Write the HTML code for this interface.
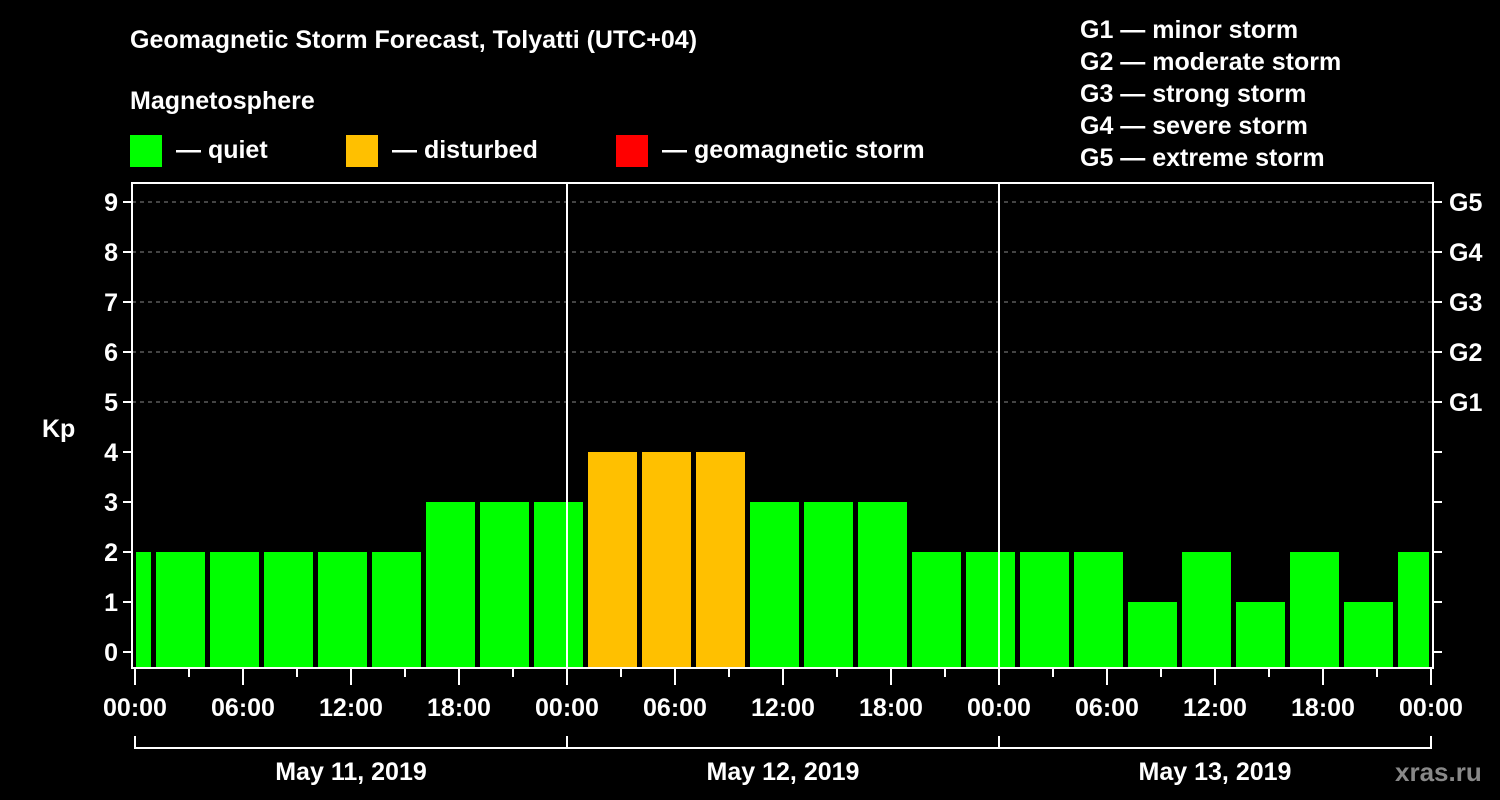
<!DOCTYPE html>
<html><head><meta charset="utf-8"><style>
body{margin:0;background:#000;}
svg{display:block;font-family:"Liberation Sans",sans-serif;font-weight:bold;}
</style></head><body>
<svg id="c" width="1500" height="800">
<rect width="1500" height="800" fill="#000"/>
<g fill="#fff" font-size="25">
<text x="130" y="48">Geomagnetic Storm Forecast, Tolyatti (UTC+04)</text>
<text x="130" y="109">Magnetosphere</text>
<rect x="130" y="135" width="32" height="32" fill="#00ff00"/>
<text x="176" y="158">— quiet</text>
<rect x="346" y="135" width="32" height="32" fill="#ffc000"/>
<text x="392" y="158">— disturbed</text>
<rect x="616" y="135" width="32" height="32" fill="#ff0000"/>
<text x="662" y="158">— geomagnetic storm</text>
<text x="1080" y="38">G1 — minor storm</text>
<text x="1080" y="70">G2 — moderate storm</text>
<text x="1080" y="102">G3 — strong storm</text>
<text x="1080" y="134">G4 — severe storm</text>
<text x="1080" y="166">G5 — extreme storm</text>
<text x="42" y="437">Kp</text>
<text x="1395" y="781" fill="#888" font-size="26">xras.ru</text>
</g>
<g id="plot"></g>
</svg>
<script>
const kpValues=[2,2,2,2,2,2,3,3,3,4,4,4,3,3,3,2,2,2,2,1,2,1,2,1,2];
const startHours=[0,1,4,7,10,13,16,19,22,25,28,31,34,37,40,43,46,49,52,55,58,61,64,67,70];
const yTicks=[0,1,2,3,4,5,6,7,8,9];
const gLabels=["G1","G2","G3","G4","G5"];
const xTickLabels=["00:00","06:00","12:00","18:00"];
const dayLabels=["May 11, 2019","May 12, 2019","May 13, 2019"];
const totalHours=72;
const NS="http://www.w3.org/2000/svg";
const g=document.getElementById('plot');
const X0=135,PXH=18,Y0=652,PXK=50,L=132,R=1433,T=183,B=668;
const x=h=>X0+h*PXH, y=k=>Y0-k*PXK;
function mk(tag,a,p){const e=document.createElementNS(NS,tag);for(const k in a)e.setAttribute(k,a[k]);(p||g).appendChild(e);return e;}
// grid
yTicks.filter(k=>k>=5).forEach(k=>{
 const l=mk('line',{x1:L,x2:R,y1:y(k),y2:y(k),stroke:'#888','stroke-dasharray':'4,4','stroke-width':1});
 
 
});
// bars
kpValues.forEach((v,i)=>{
 const s=startHours[i], e=i+1<startHours.length?startHours[i+1]:totalHours;
 const x1=Math.max(x(s)+(s===0?1:3),L+3), x2=x(e)-2;
 const c=v>=5?'#ff0000':(v>=4?'#ffc000':'#00ff00');
 const r=mk('rect',{x:x1,y:y(v),width:x2-x1,height:B-y(v),fill:c});
 
 
});
// day separators
[1,2].forEach(d=>{
 const l=mk('line',{x1:x(d*24),x2:x(d*24),y1:T,y2:B,stroke:'#fff','stroke-width':2});
 
 
});
// frame
const f=mk('rect',{x:L,y:T,width:R-L,height:B-T,fill:'none',stroke:'#fff','stroke-width':2});


// y ticks
yTicks.forEach(k=>{
 mk('line',{x1:L-9,x2:L,y1:y(k),y2:y(k),stroke:'#fff','stroke-width':2});
 mk('line',{x1:R,x2:R+9,y1:y(k),y2:y(k),stroke:'#fff','stroke-width':2});
 const t=mk('text',{x:L-14,y:y(k)+9,fill:'#fff','font-size':25,'text-anchor':'end'});
 t.textContent=k;
 
 
 if(k>=5){const gt=mk('text',{x:R+16,y:y(k)+9,fill:'#fff','font-size':25});
  gt.textContent=gLabels[k-5];
  
  }
});
// x ticks
for(let h=0;h<=totalHours;h+=3){
 const major=h%6===0;
 mk('line',{x1:x(h),x2:x(h),y1:B,y2:B+(major?17:9),stroke:'#fff','stroke-width':2});
 if(major){const t=mk('text',{x:x(h),y:716,fill:'#fff','font-size':25,'text-anchor':'middle'});
  t.textContent=xTickLabels[(h%24)/6];
  
  }
}
// day brackets
mk('polyline',{points:`${x(0)},736 ${x(0)},748 ${x(72)},748 ${x(72)},736`,fill:'none',stroke:'#fff','stroke-width':2});
[1,2].forEach(d=>mk('line',{x1:x(d*24),x2:x(d*24),y1:736,y2:748,stroke:'#fff','stroke-width':2}));
dayLabels.forEach((d,i)=>{
 const t=mk('text',{x:x(i*24+12),y:780,fill:'#fff','font-size':25,'text-anchor':'middle'});
 t.textContent=d;
 
 
});
</script>
</body></html>
